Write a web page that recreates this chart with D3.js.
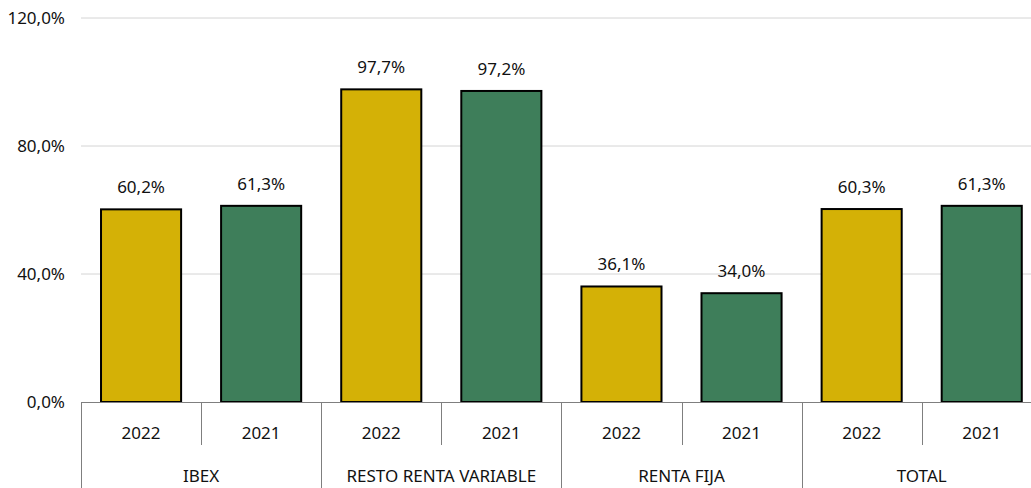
<!DOCTYPE html>
<html>
<head>
<meta charset="utf-8">
<script src="https://cdn.jsdelivr.net/npm/d3@7"></script>
<style>
  body { margin: 0; background: #fff; }
  svg { display: block; font-family: "Noto Sans", "Open Sans", sans-serif; }
</style>
</head>
<body>
<div id="chart"></div>
<script>
// ---------------------------
// DATA
// ---------------------------
const groups = ["IBEX", "RESTO RENTA VARIABLE", "RENTA FIJA", "TOTAL"];
const years = ["2022", "2021"];
const values2022 = [60.2, 97.7, 36.1, 60.3];
const values2021 = [61.3, 97.2, 34.0, 61.3];
const yTicks = [0, 40, 80, 120];

const colors = { "2022": "#D4B106", "2021": "#3E7E5A" };

// ---------------------------
// LAYOUT
// ---------------------------
const width = 1031, height = 488;
const plotLeft = 81, slotW = 120.1;
const plotRight = plotLeft + slotW * groups.length * years.length;
const yTop = 18, yBase = 402;
const fontSize = 17;

const fmt = v => d3.format(".1f")(v).replace(".", ",") + "%";

const svg = d3.select("#chart").append("svg")
  .attr("width", width)
  .attr("height", height);

const y = d3.scaleLinear().domain([0, 120]).range([yBase, yTop]);

const x0 = d3.scaleBand().domain(groups).range([plotLeft, plotRight]);
const x1 = d3.scaleBand().domain(years).range([0, x0.bandwidth()]).paddingInner(0.333).paddingOuter(0.1667);

// flat list of bars
const bars = [];
groups.forEach((g, i) => {
  bars.push({ group: g, year: "2022", value: values2022[i] });
  bars.push({ group: g, year: "2021", value: values2021[i] });
});

// ---------------------------
// GRIDLINES + Y LABELS
// ---------------------------
svg.append("g").selectAll("line")
  .data(yTicks.filter(d => d > 0))
  .join("line")
  .attr("x1", plotLeft).attr("x2", width)
  .attr("y1", d => y(d)).attr("y2", d => y(d))
  .attr("stroke", "#d4d4d4").attr("stroke-width", 1);

svg.append("g").selectAll("text")
  .data(yTicks)
  .join("text")
  .attr("x", 65)
  .attr("y", d => y(d) + 6)
  .attr("text-anchor", "end")
  .attr("font-size", fontSize)
  .attr("fill", "#111")
  .text(fmt);

// ---------------------------
// BARS
// ---------------------------
svg.append("g").selectAll("rect")
  .data(bars)
  .join("rect")
  .attr("x", d => x0(d.group) + x1(d.year))
  .attr("y", d => y(d.value))
  .attr("width", x1.bandwidth())
  .attr("height", d => yBase - y(d.value))
  .attr("fill", d => colors[d.year])
  .attr("stroke", "#000")
  .attr("stroke-width", 2);

// value labels
svg.append("g").selectAll("text")
  .data(bars)
  .join("text")
  .attr("x", d => x0(d.group) + x1(d.year) + x1.bandwidth() / 2)
  .attr("y", d => y(d.value) - 16)
  .attr("text-anchor", "middle")
  .attr("font-size", fontSize)
  .attr("fill", "#111")
  .text(d => fmt(d.value));

// ---------------------------
// CATEGORY AXIS (two levels)
// ---------------------------
svg.append("line")
  .attr("x1", plotLeft).attr("x2", width)
  .attr("y1", yBase + 0.5).attr("y2", yBase + 0.5)
  .attr("stroke", "#7f7f7f").attr("stroke-width", 1);

// group separators
svg.append("g").selectAll("line")
  .data(groups.map(g => x0(g)).concat([plotRight]))
  .join("line")
  .attr("x1", d => Math.round(d) + 0.5).attr("x2", d => Math.round(d) + 0.5)
  .attr("y1", yBase).attr("y2", height)
  .attr("stroke", "#7f7f7f");

// year separators inside each group
svg.append("g").selectAll("line")
  .data(groups)
  .join("line")
  .attr("x1", g => Math.round(x0(g) + x0.bandwidth() / 2) + 0.5)
  .attr("x2", g => Math.round(x0(g) + x0.bandwidth() / 2) + 0.5)
  .attr("y1", yBase).attr("y2", 445)
  .attr("stroke", "#7f7f7f");

// year labels
svg.append("g").selectAll("text")
  .data(bars)
  .join("text")
  .attr("x", d => x0(d.group) + x1(d.year) + x1.bandwidth() / 2)
  .attr("y", 439)
  .attr("text-anchor", "middle")
  .attr("font-size", fontSize)
  .attr("fill", "#111")
  .text(d => d.year);

// group labels
svg.append("g").selectAll("text")
  .data(groups)
  .join("text")
  .attr("x", g => x0(g) + x0.bandwidth() / 2)
  .attr("y", 482)
  .attr("text-anchor", "middle")
  .attr("font-size", fontSize)
  .attr("fill", "#111")
  .text(g => g);
</script>
</body>
</html>
